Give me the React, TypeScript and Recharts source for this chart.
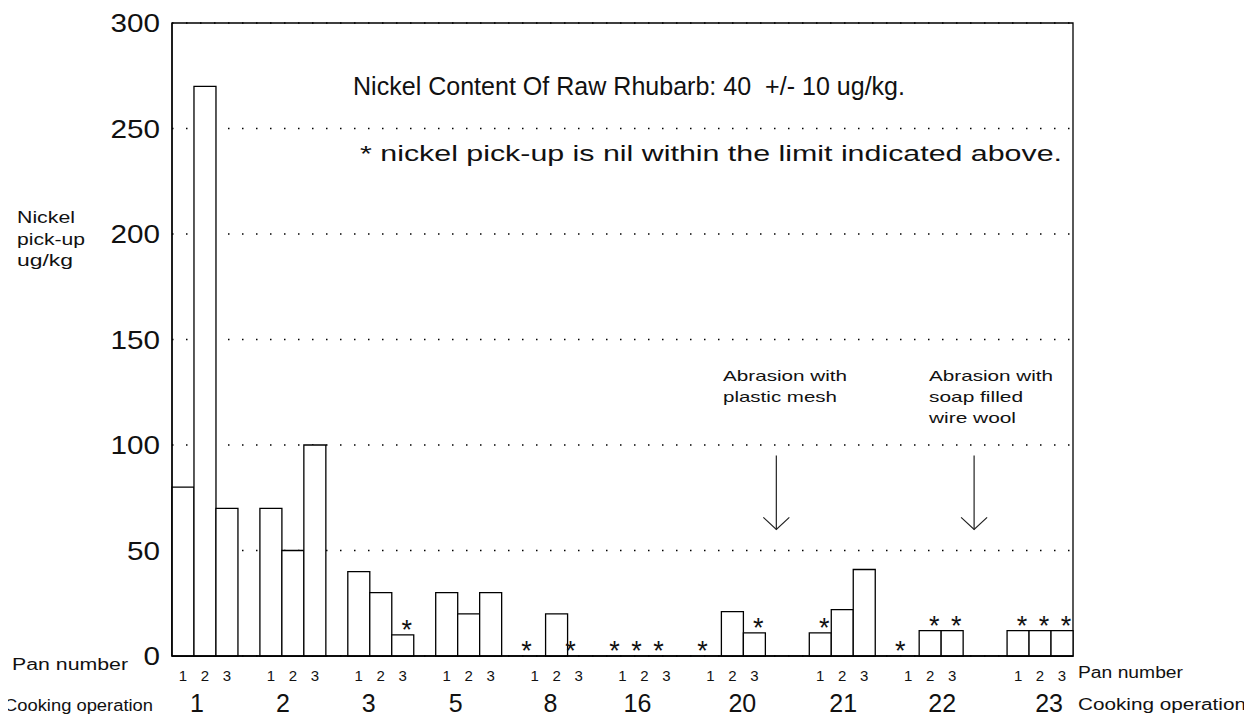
import React from 'react';
import {
  ComposedChart,
  Bar,
  Line,
  XAxis,
  YAxis,
  CartesianGrid,
  ReferenceLine,
  ReferenceArea,
} from 'recharts';

// ---- data ----
const operations = ['1', '2', '3', '5', '8', '16', '20', '21', '22', '23'];
const panNumbers = ['1', '2', '3'];
const pan1Values = [80, 70, 40, 30, 0, 0, 0, 11, 0, 12];
const pan2Values = [270, 50, 30, 20, 20, 0, 21, 22, 12, 12];
const pan3Values = [70, 100, 10, 30, 0, 0, 11, 41, 12, 12];
const pan1Nil = [false, false, false, false, true, true, true, true, true, true];
const pan2Nil = [false, false, false, false, false, true, false, false, true, true];
const pan3Nil = [false, false, true, false, true, true, true, false, true, true];
const yTicks = [0, 50, 100, 150, 200, 250, 300];
const arrowEvents = [
  { afterOperation: '20', top: 95, bottom: 60 },
  { afterOperation: '22', top: 95, bottom: 60 },
];

// ---- layout (not data) ----
const gapSlotsAfter = [1, 1, 1, 1, 1, 1, 2, 1, 2, 0];
const opLabelDx = [-8, -10, -12, -13, -6, -7, 10, 1, 12, 9];

type Row = {
  slot: string;
  value: number | null;
  nil?: boolean;
  star?: number | null;
  pan?: string;
  op?: string;
  opDx?: number;
};

const seriesValues = [pan1Values, pan2Values, pan3Values];
const seriesNil = [pan1Nil, pan2Nil, pan3Nil];

const rows: Row[] = [];
operations.forEach((op, g) => {
  panNumbers.forEach((pan, p) => {
    const v = seriesValues[p][g];
    const nil = seriesNil[p][g];
    rows.push({
      slot: `${op}-${pan}`,
      value: v,
      nil,
      star: nil ? v : null,
      pan,
      op: p === 1 ? op : undefined,
      opDx: p === 1 ? opLabelDx[g] : undefined,
    });
  });
  for (let k = 1; k <= gapSlotsAfter[g]; k++) {
    rows.push({ slot: `${op}-gap${k}`, value: null, star: null });
  }
});

const FONT = '"Liberation Sans", Arial, Helvetica, sans-serif';
const INK = '#111';

const PanTick = (props: any) => {
  const { x, y, payload } = props;
  const row = rows.find((r) => r.slot === payload.value);
  if (!row || !row.pan) return <g />;
  return (
    <g>
      <text x={x} y={y + 25} textAnchor="middle" fontSize={15} fontFamily={FONT} fill={INK}>
        {row.pan}
      </text>
      {row.op && (
        <text
          x={x + (row.opDx || 0)}
          y={y + 56}
          textAnchor="middle"
          fontSize={25}
          fontFamily={FONT}
          fill={INK}
        >
          {row.op}
        </text>
      )}
    </g>
  );
};

const ValueTick = (props: any) => {
  const { x, y, payload } = props;
  const s = String(payload.value);
  return (
    <text
      x={x}
      y={y}
      dy="0.36em"
      textAnchor="end"
      fontSize={26}
      fontFamily={FONT}
      fill={INK}
      textLength={s.length * 16.5}
      lengthAdjust="spacingAndGlyphs"
    >
      {s}
    </text>
  );
};

const StarDot = (props: any) => {
  const { cx, cy, payload, index } = props;
  if (payload == null || payload.star == null || cx == null || cy == null) return <g key={index} />;
  const zero = payload.star === 0;
  return (
    <text
      key={index}
      x={cx + (zero ? -8 : 4)}
      y={cy + 4}
      textAnchor="middle"
      fontSize={27}
      fontFamily={FONT}
      fill={INK}
    >
      *
    </text>
  );
};

const ArrowShape = (props: any) => {
  const { x1, y1, x2, y2 } = props;
  const tipY = Math.max(y1, y2);
  const topY = Math.min(y1, y2);
  const x = (x1 + x2) / 2;
  return (
    <g stroke="#222" strokeWidth={1.2} fill="none">
      <line x1={x} y1={topY} x2={x} y2={tipY} />
      <polyline points={`${x - 13},${tipY - 12} ${x},${tipY} ${x + 13},${tipY - 12}`} />
    </g>
  );
};

const W = 1252;
const H = 719;

const T = (p: {
  x: number;
  y: number;
  size: number;
  len?: number;
  children: React.ReactNode;
}) => (
  <text
    x={p.x}
    y={p.y}
    fontSize={p.size}
    fontFamily={FONT}
    fill={INK}
    textLength={p.len}
    lengthAdjust={p.len ? 'spacingAndGlyphs' : undefined}
    style={{ whiteSpace: 'pre' }}
  >
    {p.children}
  </text>
);

export default function App() {
  return (
    <div
      style={{
        position: 'relative',
        left: -8,
        top: -8,
        width: W,
        height: H,
        fontFamily: FONT,
        background: '#fff',
        overflow: 'hidden',
      }}
    >
      <ComposedChart
        width={W}
        height={H}
        data={rows}
        margin={{ top: 23, right: 179, bottom: 3, left: 112 }}
        barCategoryGap={0}
        barGap={0}
      >
        <CartesianGrid
          vertical={false}
          stroke="#000"
          strokeWidth={1.4}
          strokeDasharray="1.5 12.5"
        />
        <ReferenceArea y1={0} y2={300} fill="none" stroke="#000" strokeWidth={1.3} ifOverflow="visible" />
        <XAxis
          dataKey="slot"
          interval={0}
          tickLine={false}
          tickSize={0}
          tickMargin={0}
          height={60}
          axisLine={{ stroke: '#000', strokeWidth: 1.3 }}
          tick={<PanTick />}
        />
        <YAxis
          domain={[0, 300]}
          ticks={yTicks}
          width={60}
          tickLine={false}
          tickSize={0}
          tickMargin={12}
          axisLine={{ stroke: '#000', strokeWidth: 1.3 }}
          tick={<ValueTick />}
        />
        <Bar dataKey="value" fill="#fff" stroke="#000" strokeWidth={1.3} isAnimationActive={false} />
        <Line
          dataKey="star"
          stroke="none"
          connectNulls={false}
          dot={<StarDot />}
          activeDot={false}
          legendType="none"
          isAnimationActive={false}
        />
        {arrowEvents.map((a) => (
          <ReferenceLine
            key={a.afterOperation}
            segment={[
              { x: `${a.afterOperation}-gap1`, y: a.top },
              { x: `${a.afterOperation}-gap1`, y: a.bottom },
            ]}
            shape={ArrowShape}
            ifOverflow="visible"
          />
        ))}
      </ComposedChart>
      <svg
        width={W}
        height={H}
        style={{ position: 'absolute', left: 0, top: 0, pointerEvents: 'none' }}
      >
        <T x={353} y={95} size={26} len={552}>Nickel Content Of Raw Rhubarb: 40  +/- 10 ug/kg.</T>
        <T x={360} y={161} size={22} len={702}>* nickel pick-up is nil within the limit indicated above.</T>
        <T x={17} y={223} size={16} len={58}>Nickel</T>
        <T x={17} y={245} size={16} len={68}>pick-up</T>
        <T x={17} y={266} size={16} len={56}>ug/kg</T>
        <T x={723} y={381} size={15} len={124}>Abrasion with</T>
        <T x={723} y={402} size={15} len={114}>plastic mesh</T>
        <T x={929} y={381} size={15} len={124}>Abrasion with</T>
        <T x={929} y={402} size={15} len={94}>soap filled</T>
        <T x={929} y={423} size={15} len={87}>wire wool</T>
        <T x={12} y={670} size={16} len={116}>Pan number</T>
        <T x={4} y={711} size={16} len={149}>Cooking operation</T>
        <T x={1078} y={678} size={16} len={105}>Pan number</T>
        <T x={1078} y={710} size={16} len={168}>Cooking operation</T>
      </svg>
    </div>
  );
}
